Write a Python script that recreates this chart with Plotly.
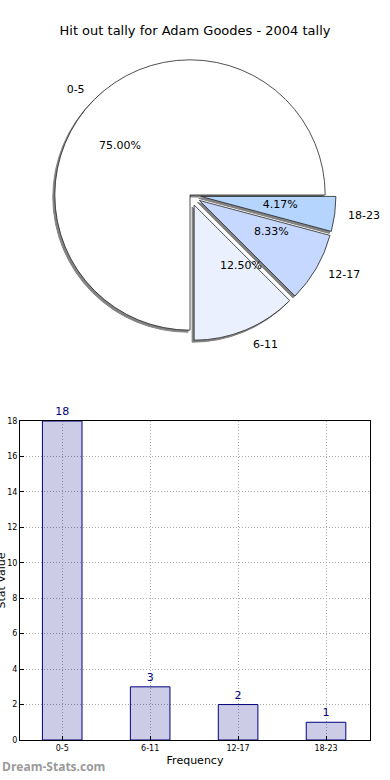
import plotly.graph_objects as go

categories = ["0-5", "6-11", "12-17", "18-23"]
counts = [18, 3, 2, 1]
pie_colors = ["#ffffff", "#ebf0fe", "#c6d8ff", "#b5d5ff"]
pie_pull = [0, 0.08, 0.08, 0.08]
y_ticks = [0, 2, 4, 6, 8, 10, 12, 14, 16, 18]

W, H = 390, 780
FONT = "DejaVu Sans"

# pie geometry (pixels)
cx, cy, half = 190, 195, 146
def dom(cx_, cy_, h_):
    return dict(x=[(cx_ - h_) / W, (cx_ + h_) / W],
                y=[(H - cy_ - h_) / H, (H - cy_ + h_) / H])

common = dict(labels=categories, values=counts, sort=False,
              direction="counterclockwise", rotation=180, pull=pie_pull,
              showlegend=False, automargin=False)
clear = dict(colors=["rgba(0,0,0,0)"] * 4, line=dict(width=0))
txtfont = dict(family=FONT, size=11, color="#000000")

fig = go.Figure()

# shadow
fig.add_trace(go.Pie(
    **common, domain=dom(cx - 2, cy + 2, half),
    marker=dict(colors=["#838383"] * 4, line=dict(color="#838383", width=1)),
    textinfo="none", hoverinfo="skip"))

# main pie
fig.add_trace(go.Pie(
    **common, domain=dom(cx, cy, half),
    marker=dict(colors=pie_colors, line=dict(color="#222222", width=0.8)),
    textinfo="none"))

# transparent outer pie carrying category labels
fig.add_trace(go.Pie(
    **common, domain=dom(cx, cy, 156), marker=clear,
    textinfo="label", textposition="outside", outsidetextfont=txtfont,
    hoverinfo="skip"))

# transparent inner pie carrying percentage text
fig.add_trace(go.Pie(
    **common, domain=dom(cx, cy, 70), marker=clear,
    texttemplate="%{percent:.2%}", textposition="outside", outsidetextfont=txtfont,
    hoverinfo="skip"))

# bar chart
fig.add_trace(go.Bar(
    x=list(range(len(categories))), y=counts, width=0.45,
    marker=dict(color="rgba(0,0,128,0.2)", line=dict(color="#000080", width=1)),
    text=[str(c) for c in counts], textposition="outside", cliponaxis=False,
    textfont=dict(family=FONT, size=11, color="#000080"),
    showlegend=False, xaxis="x", yaxis="y"))

y_dom = [40 / H, (H - 421) / H]
grid = dict(showgrid=True, gridcolor="#a8a8a8", griddash="1px,2px", gridwidth=1)

fig.update_layout(
    width=W, height=H, autosize=False,
    margin=dict(l=0, r=0, t=0, b=0, pad=0, autoexpand=False),
    paper_bgcolor="white", plot_bgcolor="white",
    font=dict(family=FONT, color="#000000"),
    title=dict(text="Hit out tally for Adam Goodes - 2004 tally",
               x=0.5, xanchor="center", y=1 - 30 / H, yanchor="middle",
               font=dict(family=FONT, size=13, color="#000000")),
    xaxis=dict(domain=[20 / W, 370 / W], range=[-0.48, 3.5],
               tickmode="array", tickvals=list(range(len(categories))),
               ticktext=categories, tickfont=dict(size=8),
               showline=True, linecolor="#000000", linewidth=1, mirror=True,
               ticks="inside", ticklen=4, tickcolor="#000000",
               zeroline=False, automargin=False, **grid,
               title=dict(text="Frequency", font=dict(size=11), standoff=4)),
    yaxis=dict(domain=y_dom, range=[0, 18],
               tickmode="array", tickvals=y_ticks, tickfont=dict(size=8),
               showline=True, linecolor="#000000", linewidth=1, mirror=True,
               ticks="inside", ticklen=4, tickcolor="#000000",
               zeroline=False, automargin=False, **grid),
    bargap=0.55,
    annotations=[
        dict(text="<b>Dream-Stats.com</b>", xref="paper", yref="paper",
             x=0, y=3 / H, xanchor="left", yanchor="bottom",
             showarrow=False, font=dict(family="Open Sans", size=12, color="#9a9a9a")),
        dict(text="Stat Value", xref="paper", yref="paper", textangle=-90,
             x=1 / W, y=sum(y_dom) / 2, xanchor="center", yanchor="middle",
             showarrow=False, font=dict(family=FONT, size=11, color="#000000")),
    ],
)

fig.write_html(
    "out.html",
    config={"displayModeBar": False, "responsive": False},
    post_script=("document.documentElement.style.overflow='hidden';"
                 "document.body.style.margin='0';document.body.style.overflow='hidden';"))
